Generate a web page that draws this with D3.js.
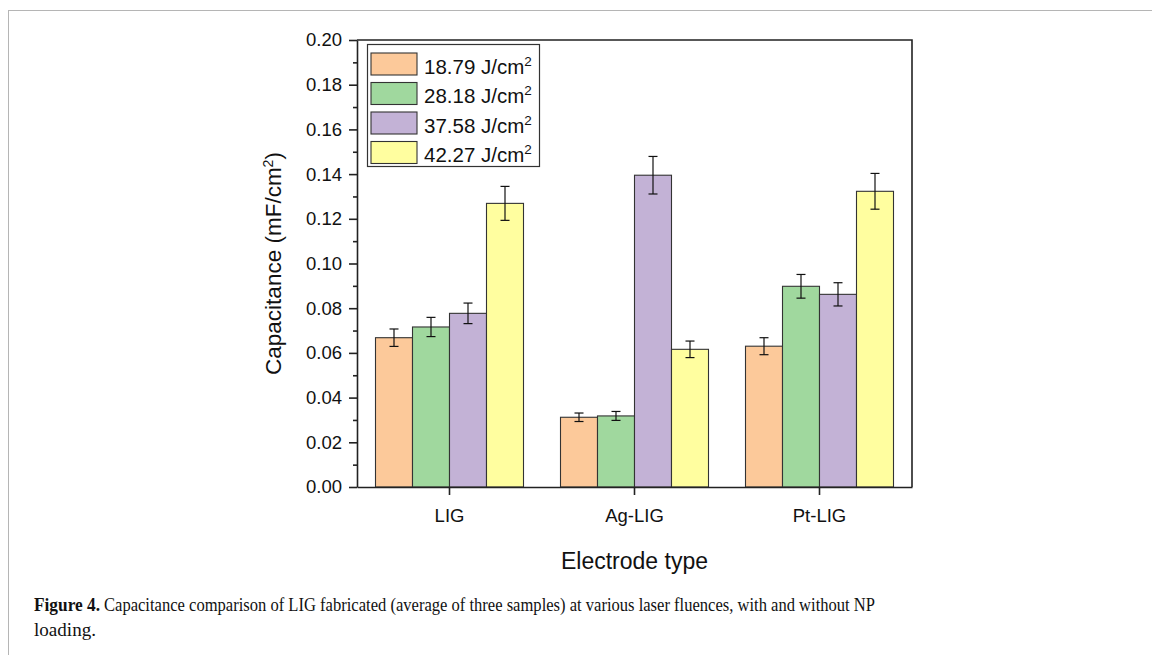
<!DOCTYPE html>
<html lang="en">
<head>
    <meta charset="UTF-8">
    <title>Capacitance comparison</title>
    <script src="https://d3js.org/d3.v7.min.js"></script>
    <style>
        body { margin: 0; background: #fff; }
        svg { display: block; }
        .axis path, .axis line { stroke: #222; stroke-width: 1.6px; }
        .axis text { font-family: "Liberation Sans", Arial, sans-serif; font-size: 18.5px; fill: #111; }
        .title { font-family: "Liberation Sans", Arial, sans-serif; fill: #111; }
        .caption { font-family: "Liberation Serif", "Times New Roman", serif; font-size: 18.5px; fill: #111; }
    </style>
</head>
<body>
<svg width="1152" height="655"></svg>
<script>
    // data
    const categories = ["LIG", "Ag-LIG", "Pt-LIG"];
    const fluences = ["18.79", "28.18", "37.58", "42.27"];
    const colors = ["#FCC99A", "#A0D89E", "#C3B2D6", "#FFFE9F"];

    const values18 = [0.0668, 0.0312, 0.0630];
    const values28 = [0.0716, 0.0318, 0.0898];
    const values37 = [0.0777, 0.1395, 0.0862];
    const values42 = [0.1269, 0.0616, 0.1323];

    const errors18 = [0.0039, 0.0019, 0.0038];
    const errors28 = [0.0043, 0.0020, 0.0053];
    const errors37 = [0.0046, 0.0084, 0.0052];
    const errors42 = [0.0076, 0.0037, 0.0080];

    const majorTicks = [0, 0.02, 0.04, 0.06, 0.08, 0.10, 0.12, 0.14, 0.16, 0.18, 0.20];
    const minorTicks = [0.01, 0.03, 0.05, 0.07, 0.09, 0.11, 0.13, 0.15, 0.17, 0.19];

    const allValues = [values18, values28, values37, values42];
    const allErrors = [errors18, errors28, errors37, errors42];

    const rows = [];
    categories.forEach(function(c, ci) {
        fluences.forEach(function(f, si) {
            rows.push({ cat: c, series: f, si: si, value: allValues[si][ci], err: allErrors[si][ci] });
        });
    });

    const plotL = 357, plotR = 912, plotT = 40, plotB = 487;
    const svg = d3.select("svg");

    // page frame
    svg.append("line").attr("x1", 8).attr("x2", 1152).attr("y1", 10.5).attr("y2", 10.5)
        .attr("stroke", "#b5b5b5").attr("stroke-width", 1);
    svg.append("line").attr("x1", 8.5).attr("x2", 8.5).attr("y1", 10).attr("y2", 655)
        .attr("stroke", "#b5b5b5").attr("stroke-width", 1);

    const x0 = d3.scaleBand().domain(categories).range([plotL, plotR]).padding(0);
    const x1 = d3.scaleBand().domain(fluences).range([0, x0.bandwidth()])
        .paddingInner(0).paddingOuter(0.5);
    const y = d3.scaleLinear().domain([0, 0.2]).range([plotB, plotT]);

    // bars
    svg.append("g").selectAll("rect")
        .data(rows)
        .enter()
        .append("rect")
        .attr("x", function(d) { return x0(d.cat) + x1(d.series); })
        .attr("y", function(d) { return y(d.value); })
        .attr("width", x1.bandwidth())
        .attr("height", function(d) { return y(0) - y(d.value); })
        .attr("fill", function(d) { return colors[d.si]; })
        .attr("stroke", "#333")
        .attr("stroke-width", 1.1);

    // error bars
    const eb = svg.append("g").attr("stroke", "#111").attr("stroke-width", 1.2);
    const cx = function(d) { return x0(d.cat) + x1(d.series) + x1.bandwidth() / 2; };
    eb.selectAll("line.v").data(rows).enter().append("line").attr("class", "v")
        .attr("x1", cx).attr("x2", cx)
        .attr("y1", function(d) { return y(d.value + d.err); })
        .attr("y2", function(d) { return y(d.value - d.err); });
    eb.selectAll("line.t").data(rows).enter().append("line").attr("class", "t")
        .attr("x1", function(d) { return cx(d) - 4.5; }).attr("x2", function(d) { return cx(d) + 4.5; })
        .attr("y1", function(d) { return y(d.value + d.err); })
        .attr("y2", function(d) { return y(d.value + d.err); });
    eb.selectAll("line.b").data(rows).enter().append("line").attr("class", "b")
        .attr("x1", function(d) { return cx(d) - 4.5; }).attr("x2", function(d) { return cx(d) + 4.5; })
        .attr("y1", function(d) { return y(d.value - d.err); })
        .attr("y2", function(d) { return y(d.value - d.err); });

    // axes
    svg.append("g").attr("class", "axis")
        .attr("transform", "translate(" + plotL + ",0)")
        .call(d3.axisLeft(y).tickValues(minorTicks).tickSize(4).tickFormat(""))
        .select(".domain").remove();
    svg.append("g").attr("class", "axis")
        .attr("transform", "translate(" + plotL + ",0)")
        .call(d3.axisLeft(y).tickValues(majorTicks).tickSize(8).tickSizeOuter(0)
            .tickPadding(7).tickFormat(d3.format(".2f")));
    svg.append("g").attr("class", "axis")
        .attr("transform", "translate(0," + plotB + ")")
        .call(d3.axisBottom(x0).tickSize(8).tickSizeOuter(0).tickPadding(14));
    // frame top and right
    svg.append("path")
        .attr("d", "M" + plotL + "," + plotT + "H" + plotR + "V" + plotB)
        .attr("fill", "none").attr("stroke", "#222").attr("stroke-width", 1.6);

    // axis titles
    svg.append("text").attr("class", "title")
        .attr("x", (plotL + plotR) / 2).attr("y", 569)
        .attr("text-anchor", "middle").attr("font-size", 23)
        .text("Electrode type");
    const yt = svg.append("text").attr("class", "title")
        .attr("transform", "translate(281," + (plotT + plotB) / 2 + ") rotate(-90)")
        .attr("text-anchor", "middle").attr("font-size", 22.5);
    yt.append("tspan").text("Capacitance (mF/cm");
    yt.append("tspan").attr("font-size", 14).attr("dy", -8).text("2");
    yt.append("tspan").attr("dy", 8).text(")");

    // legend
    const legend = svg.append("g");
    legend.append("rect").attr("x", 367.5).attr("y", 44.5).attr("width", 172).attr("height", 122)
        .attr("fill", "#fff").attr("stroke", "#333").attr("stroke-width", 1.2);
    const items = legend.selectAll("g.item").data(fluences).enter().append("g")
        .attr("transform", function(d, i) { return "translate(371," + (53 + i * 29.5) + ")"; });
    items.append("rect").attr("width", 46).attr("height", 22)
        .attr("fill", function(d, i) { return colors[i]; })
        .attr("stroke", "#333").attr("stroke-width", 1.1);
    const lt = items.append("text").attr("class", "title").attr("x", 53).attr("y", 20.5)
        .attr("font-size", 20.5);
    lt.append("tspan").text(function(d) { return d + " J/cm"; });
    lt.append("tspan").attr("font-size", 13.5).attr("dy", -8).text("2");

    // caption
    svg.append("text").attr("class", "caption").attr("x", 34).attr("y", 611)
        .attr("font-weight", "bold")
        .attr("textLength", 66).attr("lengthAdjust", "spacingAndGlyphs")
        .text("Figure 4.");
    svg.append("text").attr("class", "caption").attr("x", 104).attr("y", 611)
        .attr("textLength", 771).attr("lengthAdjust", "spacingAndGlyphs")
        .text("Capacitance comparison of LIG fabricated (average of three samples) at various laser fluences, with and without NP");
    svg.append("text").attr("class", "caption").attr("x", 34).attr("y", 636)
        .attr("textLength", 62).attr("lengthAdjust", "spacingAndGlyphs").text("loading.");
</script>
</body>
</html>
